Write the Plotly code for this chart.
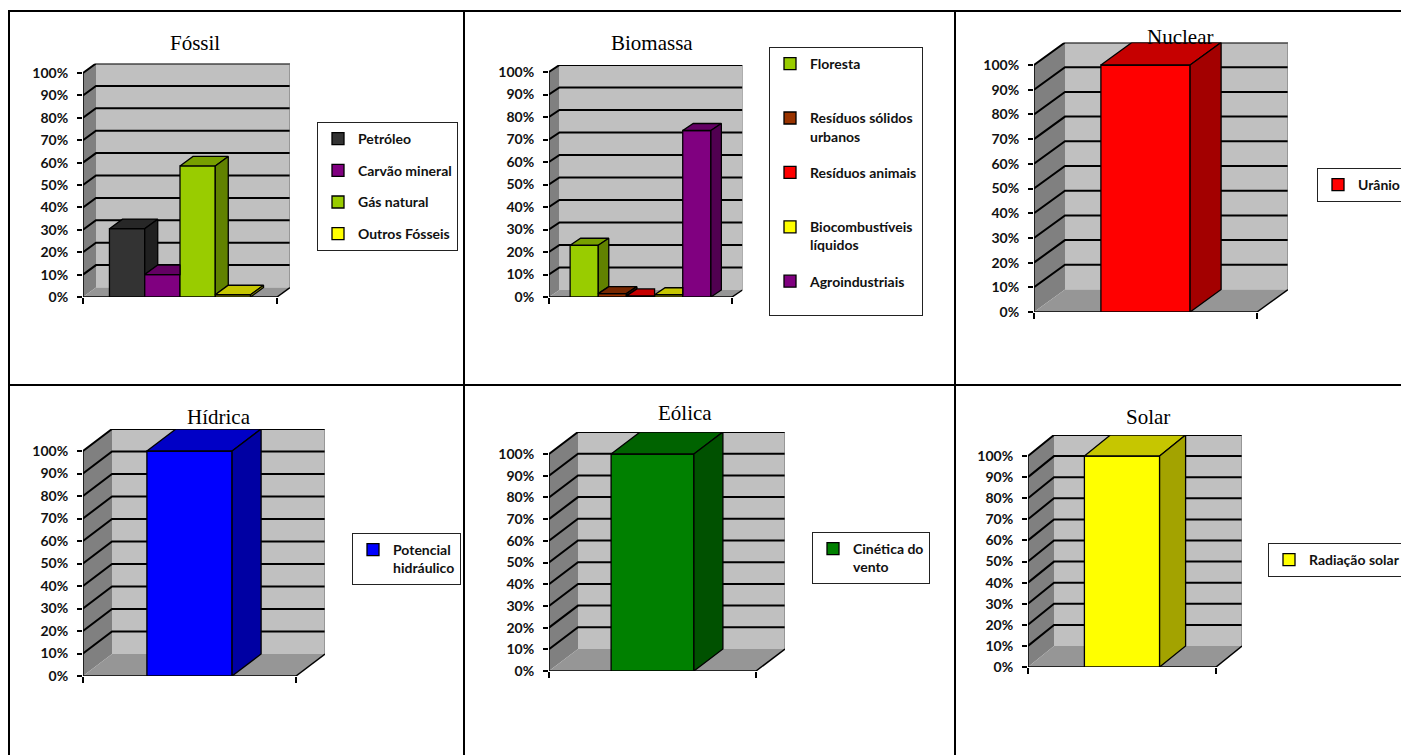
import plotly.graph_objects as go

FIG_W, FIG_H = 1401, 755

# ---------------- data ----------------
panel_titles = ["Fóssil", "Biomassa", "Nuclear", "Hídrica", "Eólica", "Solar"]

fossil_labels = ["Petróleo", "Carvão mineral", "Gás natural", "Outros Fósseis"]
fossil_values = [30.5, 10, 58.5, 1]
fossil_colors = ["#333333", "#800080", "#99CC00", "#FFFF00"]

bio_labels = ["Floresta", "Resíduos sólidos<br>urbanos", "Resíduos animais",
              "Biocombustíveis<br>líquidos", "Agroindustriais"]
bio_values = [23, 1.5, 0.5, 1, 74]
bio_colors = ["#99CC00", "#993300", "#FF0000", "#FFFF00", "#800080"]

nuclear_labels = ["Urânio"]
nuclear_values = [100]
nuclear_colors = ["#FF0000"]

hidrica_labels = ["Potencial<br>hidráulico"]
hidrica_values = [100]
hidrica_colors = ["#0000FF"]

eolica_labels = ["Cinética do<br>vento"]
eolica_values = [100]
eolica_colors = ["#008000"]

solar_labels = ["Radiação solar"]
solar_values = [100]
solar_colors = ["#FFFF00"]

y_tick_values = [0, 10, 20, 30, 40, 50, 60, 70, 80, 90, 100]
y_tick_text = [f"{v}%" for v in y_tick_values]

series = [
    (fossil_labels, fossil_values, fossil_colors),
    (bio_labels, bio_values, bio_colors),
    (nuclear_labels, nuclear_values, nuclear_colors),
    (hidrica_labels, hidrica_values, hidrica_colors),
    (eolica_labels, eolica_values, eolica_colors),
    (solar_labels, solar_values, solar_colors),
]

# ---------------- layout (pixels) ----------------
# x0: front-left corner, y0: 0% line, W: front floor width, H: 0-100% height, dx/dy: depth
panels = [
    dict(x0=83, y0=297, W=194, H=224, dx=13, dy=9.5,
         title=(195, 43), legend=(317, 122), gap=10.5, pad=False),
    dict(x0=549, y0=297, W=183, H=225, dx=10.5, dy=7,
         title=(652, 43), legend=(769, 47), gap=15, pad=True),
    dict(x0=1034, y0=312, W=223, H=247, dx=31, dy=22.5,
         title=(1180, 37), legend=(1317, 168), gap=0, pad=False),
    dict(x0=83, y0=676, W=213, H=225, dx=29, dy=22,
         title=(219, 417), legend=(352, 533), gap=0, pad=False),
    dict(x0=549, y0=671, W=207, H=217, dx=29, dy=22,
         title=(685, 413), legend=(812, 532), gap=0, pad=False),
    dict(x0=1028, y0=667, W=188, H=211, dx=26, dy=21,
         title=(1148, 417), legend=(1268, 543), gap=0, pad=False),
]

BACK_WALL = "#C0C0C0"
SIDE_WALL = "#808080"
FLOOR = "#969696"
TOP_F = 0.78
SIDE_F = 0.64
TICK_FONT = dict(family="Lato", size=14, color="#111111", weight="bold")
LEG_FONT = dict(family="Lato", size=14, color="#111111", weight="bold")


def shade(hexcol, f):
    h = hexcol.lstrip("#")
    r, g, b = int(h[0:2], 16), int(h[2:4], 16), int(h[4:6], 16)
    return "#%02X%02X%02X" % (int(r * f), int(g * f), int(b * f))


def aname(kind, i):
    return f"{kind}axis" if i == 1 else f"{kind}axis{i}"


def aref(kind, i):
    return kind if i == 1 else f"{kind}{i}"


fig = go.Figure()
layout_axes = {}
legends = {}
annotations = []

for k, (p, (labels, values, colors)) in enumerate(zip(panels, series)):
    bi = 2 * k + 1      # base axes index
    oi = 2 * k + 2      # overlay axes index
    n = len(values)
    F = n + 1.5                       # front width in bar units
    bw = p["W"] / F
    dxu = p["dx"] / bw
    dyu = p["dy"] / (p["H"] / 100.0)
    top = 100 + dyu
    dom_x = [p["x0"] / FIG_W, (p["x0"] + p["W"] + p["dx"]) / FIG_W]
    dom_y = [(FIG_H - p["y0"]) / FIG_H, (FIG_H - (p["y0"] - p["H"] - p["dy"])) / FIG_H]
    xr = [0, F + dxu]
    yr = [0, top]
    bx, by = aref("x", bi), aref("y", bi)
    ox, oy = aref("x", oi), aref("y", oi)
    leg_id = "legend" if k == 0 else f"legend{k + 1}"

    layout_axes[aname("x", bi)] = dict(
        domain=dom_x, range=xr, anchor=by, showgrid=False, zeroline=False,
        showline=False, tickvals=[0, F], ticktext=["", ""], ticks="outside",
        ticklen=6, tickwidth=1.5, tickcolor="black", fixedrange=True)
    layout_axes[aname("y", bi)] = dict(
        domain=dom_y, range=yr, anchor=bx, showgrid=False, zeroline=False,
        showline=False, tickvals=y_tick_values, ticktext=y_tick_text,
        ticks="outside", ticklen=5, tickwidth=1.5, tickcolor="black",
        tickfont=TICK_FONT, ticklabelstandoff=6, fixedrange=True)
    layout_axes[aname("x", oi)] = dict(
        range=xr, overlaying=bx, anchor=oy, visible=False, fixedrange=True)
    layout_axes[aname("y", oi)] = dict(
        range=yr, overlaying=by, anchor=ox, visible=False, fixedrange=True)

    common = dict(showlegend=False, hoverinfo="skip", cliponaxis=False, mode="lines")
    # walls
    fig.add_trace(go.Scatter(x=[0, dxu, dxu, 0, 0], y=[0, dyu, top, 100, 0],
                             fill="toself", fillcolor=SIDE_WALL, line=dict(width=0),
                             xaxis=bx, yaxis=by, **common))
    fig.add_trace(go.Scatter(x=[dxu, F + dxu, F + dxu, dxu, dxu],
                             y=[dyu, dyu, top, top, dyu],
                             fill="toself", fillcolor=BACK_WALL, line=dict(width=0),
                             xaxis=bx, yaxis=by, **common))
    fig.add_trace(go.Scatter(x=[0, F, F + dxu, dxu, 0], y=[0, 0, dyu, dyu, 0],
                             fill="toself", fillcolor=FLOOR, line=dict(width=0),
                             xaxis=bx, yaxis=by, **common))
    # gridlines
    gx, gy = [], []
    for v in y_tick_values[1:]:
        gx += [0, dxu, F + dxu, None]
        gy += [v, v + dyu, v + dyu, None]
    fig.add_trace(go.Scatter(x=gx, y=gy, line=dict(color="black", width=2),
                             xaxis=bx, yaxis=by, **common))
    # edges
    fig.add_trace(go.Scatter(x=[F + dxu, F + dxu], y=[dyu, top],
                             line=dict(color="#6E6E6E", width=1),
                             xaxis=bx, yaxis=by, **common))
    fig.add_trace(go.Scatter(x=[F, F + dxu], y=[0, dyu],
                             line=dict(color="black", width=1.5),
                             xaxis=bx, yaxis=by, **common))
    # axis lines
    fig.add_trace(go.Scatter(x=[0, 0, None, 0, F], y=[0, 100, None, 0, 0],
                             line=dict(color="black", width=1.5),
                             xaxis=bx, yaxis=by, **common))

    # bars (front faces) + 3D faces
    for i, (lab, v, c) in enumerate(zip(labels, values, colors)):
        xl = 0.75 + i
        xrt = xl + 1
        name = lab
        if p["pad"] and "<br>" not in lab:
            name = lab + "<br>\u00a0"
        fig.add_trace(go.Bar(
            x=[xl + 0.5], y=[v], width=[1], name=name,
            marker=dict(color=c, line=dict(color="black", width=1.3)),
            xaxis=ox, yaxis=oy, legend=leg_id, legendgroup=f"g{k}_{i}",
            hoverinfo="skip"))
        vn = values[i + 1] if i + 1 < n else 0
        # top face
        if vn > v:
            tx = [xl, xrt, xrt, xl + dxu, xl]
            ty = [v, v, v + dyu, v + dyu, v]
        else:
            tx = [xl, xrt, xrt + dxu, xl + dxu, xl]
            ty = [v, v, v + dyu, v + dyu, v]
        fig.add_trace(go.Scatter(x=tx, y=ty, fill="toself", fillcolor=shade(c, TOP_F),
                                 line=dict(color="black", width=1.3),
                                 xaxis=ox, yaxis=oy, **common))
        # side face
        if vn <= v:
            sx = [xrt, xrt + dxu, xrt + dxu, xrt, xrt]
            sy = [vn, vn + dyu, v + dyu, v, vn]
            fig.add_trace(go.Scatter(x=sx, y=sy, fill="toself", fillcolor=shade(c, SIDE_F),
                                     line=dict(color="black", width=1.3),
                                     xaxis=ox, yaxis=oy, **common))

    lx, ly = p["legend"]
    legends[leg_id] = dict(
        x=lx / FIG_W, y=1 - ly / FIG_H, xanchor="left", yanchor="top",
        bgcolor="white", bordercolor="#222222", borderwidth=1, font=LEG_FONT,
        traceorder="grouped", tracegroupgap=p["gap"], valign="top",
        itemclick=False, itemdoubleclick=False)

    tx_, ty_ = p["title"]
    annotations.append(dict(
        text=panel_titles[k], x=tx_ / FIG_W, y=1 - ty_ / FIG_H, xref="paper", yref="paper",
        xanchor="center", yanchor="middle", showarrow=False,
        font=dict(family="Liberation Serif", size=21, color="black")))

# table grid lines
def hline(y, x1, x2):
    return dict(type="line", xref="paper", yref="paper", x0=x1 / FIG_W, x1=x2 / FIG_W,
                y0=1 - y / FIG_H, y1=1 - y / FIG_H, line=dict(color="black", width=2))


def vline(x, y1, y2):
    return dict(type="line", xref="paper", yref="paper", x0=x / FIG_W, x1=x / FIG_W,
                y0=1 - y1 / FIG_H, y1=1 - y2 / FIG_H, line=dict(color="black", width=2))


shapes = [hline(11, 8, 1401), hline(385, 8, 1401),
          vline(9, 10, 755), vline(464, 10, 755), vline(955, 10, 755)]

fig.update_layout(
    width=FIG_W, height=FIG_H,
    margin=dict(l=0, r=0, t=0, b=0, autoexpand=False),
    paper_bgcolor="white", plot_bgcolor="rgba(0,0,0,0)",
    barmode="overlay", showlegend=True,
    annotations=annotations, shapes=shapes,
    **layout_axes, **legends,
)

fig.write_html("out.html")
